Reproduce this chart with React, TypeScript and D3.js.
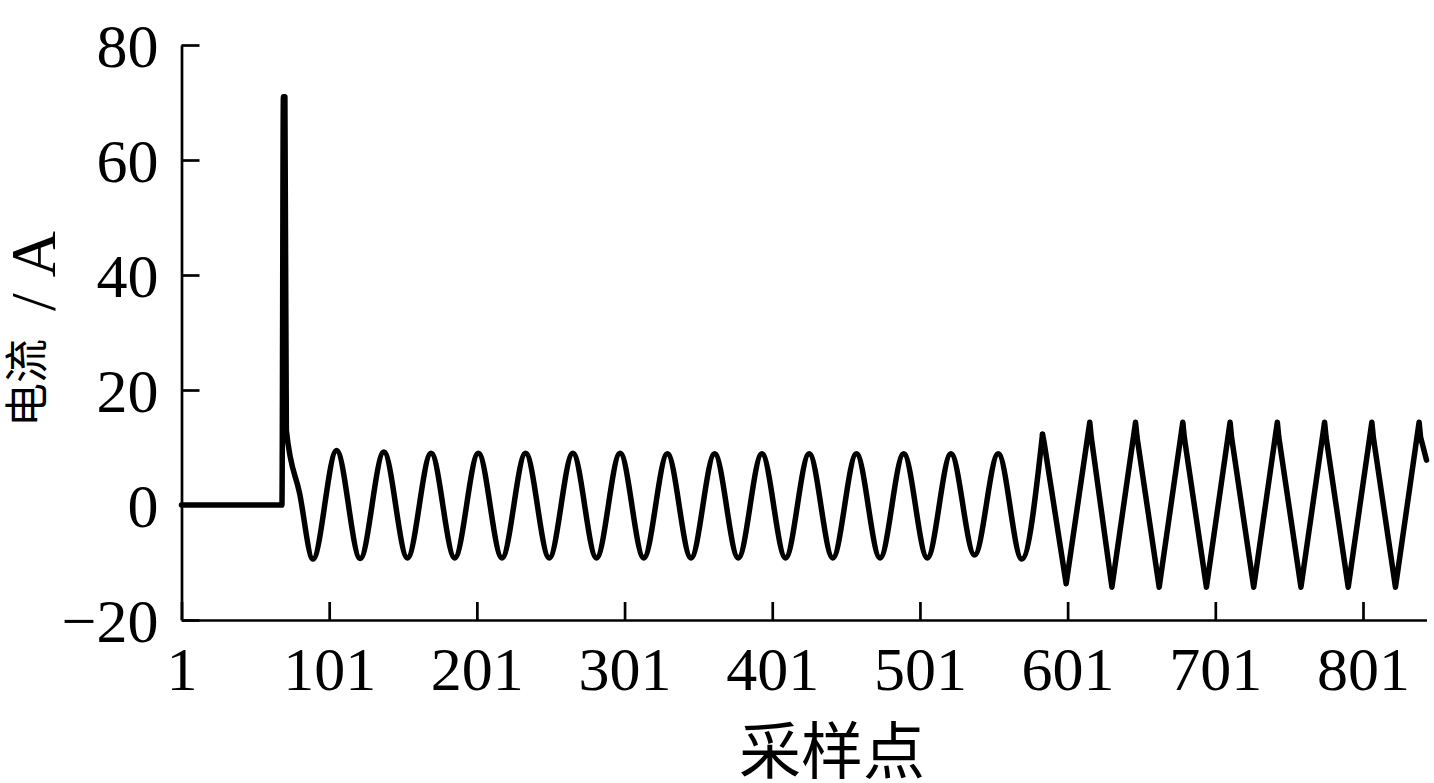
import { useEffect, useRef } from "react";
import * as d3 from "d3";

// smooth part: idle line, inrush spike, then the steady sine (extrema)
const waveSamples = [
  1, 69, 70, 71, 72, 81, 90,
  106, 122, 138, 154, 170, 186, 202, 218, 234, 250, 266, 282, 298, 314, 330,
  346, 362, 378, 394, 410, 426, 442, 458, 474, 490, 506, 522, 538, 554, 570, 584,
];
const waveCurrent = [
  0, 0, 71, 71, 13, 2, -9.4,
  9.5, -9.3, 9.2, -9.2, 9.0, -9.2, 9.0, -9.2, 9.0, -9.2, 9.0, -9.2, 9.0, -9.2, 8.9,
  -9.2, 8.9, -9.2, 8.9, -9.2, 8.9, -9.2, 8.9, -9.2, 8.9, -9.2, 8.9, -8.7, 8.9, -9.4, 12.3,
];

// sawtooth part after the peak at ~584
const sawSamples = [
  584, 585, 600,
  616, 617, 631, 647, 648, 663, 679, 680, 695, 711, 712, 727,
  743, 744, 759, 775, 776, 791, 807, 808, 823, 839, 840, 844,
];
const sawCurrent = [
  12.3, 11, -13.7,
  14.4, 11.8, -14.3, 14.4, 11.8, -14.3, 14.4, 11.8, -14.3, 14.4, 11.8, -14.3,
  14.4, 11.8, -14.3, 14.4, 11.8, -14.3, 14.4, 11.8, -14.3, 14.4, 11.8, 7.8,
];

const xTicks = [1, 101, 201, 301, 401, 501, 601, 701, 801];
const yTicks = [-20, 0, 20, 40, 60, 80];

export default function App() {
  const ref = useRef<SVGSVGElement>(null);

  useEffect(() => {
    const svg = d3.select(ref.current);
    svg.selectAll("*").remove();

    const width = 1434;
    const height = 783;
    const marginLeft = 181.5;
    const marginRight = 7.5;
    const marginTop = 45;
    const plotBottom = 620;
    const serif = "'Liberation Serif', 'Times New Roman', serif";
    const cjk = "'Noto Sans CJK SC', sans-serif";

    const x = d3.scaleLinear().domain([1, 844]).range([marginLeft, width - marginRight]);
    const y = d3.scaleLinear().domain([-20, 80]).range([plotBottom, marginTop]);

    const yAxis = svg
      .append("g")
      .attr("transform", `translate(${marginLeft},0)`)
      .call(d3.axisLeft(y).tickValues(yTicks).tickSize(-18).tickSizeOuter(0).tickPadding(23));
    yAxis.selectAll("text").attr("dy", "0.35em");

    const xAxis = svg
      .append("g")
      .attr("transform", `translate(0,${plotBottom})`)
      .call(d3.axisBottom(x).tickValues(xTicks).tickSize(-18).tickSizeOuter(0).tickPadding(26));

    [xAxis, yAxis].forEach((g) => {
      g.attr("font-family", serif).attr("font-size", 62);
      g.selectAll("text").attr("fill", "#000");
      g.selectAll("path, line").attr("stroke", "#000").attr("stroke-width", 2.7);
    });

    const smooth = d3
      .line<number>()
      .x((d) => x(waveSamples[d]))
      .y((d) => y(waveCurrent[d]))
      .curve(d3.curveMonotoneX);

    const saw = d3
      .line<number>()
      .x((d) => x(sawSamples[d]))
      .y((d) => y(sawCurrent[d]));

    svg
      .append("path")
      .attr("d", smooth(d3.range(waveSamples.length)))
      .attr("fill", "none")
      .attr("stroke", "#000")
      .attr("stroke-width", 5.5)
      .attr("stroke-linejoin", "round")
      .attr("stroke-linecap", "round");

    svg
      .append("path")
      .attr("d", saw(d3.range(sawSamples.length)))
      .attr("fill", "none")
      .attr("stroke", "#000")
      .attr("stroke-width", 5.5)
      .attr("stroke-linejoin", "round")
      .attr("stroke-linecap", "round");

    // y label
    const yLabel = svg
      .append("text")
      .attr("transform", "translate(43,427) rotate(-90)")
      .attr("fill", "#000");
    yLabel.append("tspan").attr("font-family", cjk).attr("font-size", 44).text("电流");
    yLabel
      .append("tspan")
      .attr("font-family", serif)
      .attr("font-size", 64)
      .attr("dx", 12)
      .attr("dy", 12)
      .text(" / A");

    // x label
    svg
      .append("text")
      .attr("x", 832)
      .attr("y", 774)
      .attr("text-anchor", "middle")
      .attr("font-family", cjk)
      .attr("font-size", 62)
      .attr("fill", "#000")
      .text("采样点");
  }, []);

  return (
    <svg
      ref={ref}
      width={1434}
      height={783}
      style={{ position: "absolute", left: 0, top: 0, background: "#fff" }}
    />
  );
}
